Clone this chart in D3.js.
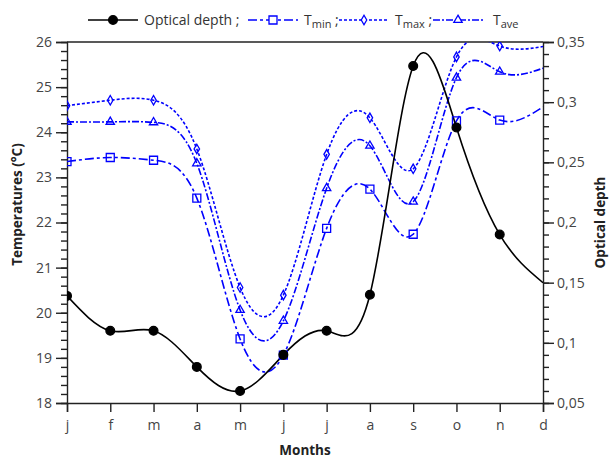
<!DOCTYPE html>
<html>
<head>
<meta charset="utf-8">
<script src="https://cdn.jsdelivr.net/npm/d3@7"></script>
<style>
  html, body { margin: 0; padding: 0; background: #fff; }
  svg { display: block; font-family: "Open Sans", "Noto Sans", sans-serif; }
</style>
</head>
<body>
<svg id="chart" width="610" height="458"></svg>
<script>
// ---- data ----
const months = ["j", "f", "m", "a", "m", "j", "j", "a", "s", "o", "n", "d"];
const opticalDepth = [0.139, 0.110, 0.110, 0.080, 0.060, 0.090, 0.110, 0.140, 0.330, 0.279, 0.190, 0.150];
const tMin = [23.35, 23.44, 23.38, 22.54, 19.42, 19.06, 21.87, 22.74, 21.74, 24.25, 24.27, 24.56];
const tMax = [24.59, 24.71, 24.71, 23.63, 20.56, 20.39, 23.51, 24.32, 23.19, 25.67, 25.91, 25.90];
const tAve = [24.23, 24.23, 24.22, 23.31, 20.06, 19.82, 22.76, 23.70, 22.46, 25.21, 25.34, 25.42];
const markerShown = [1, 1, 1, 1, 1, 1, 1, 1, 1, 1, 1, 0];
const leftTicks = [18, 19, 20, 21, 22, 23, 24, 25, 26];
const rightTicks = [0.05, 0.1, 0.15, 0.2, 0.25, 0.3, 0.35];

// ---- layout ----
const X0 = 67, X1 = 543, Y0 = 42, Y1 = 403;
const svg = d3.select("#chart");
const x = d3.scaleLinear().domain([0, months.length - 1]).range([X0, X1]);
const yT = d3.scaleLinear().domain([18, 26]).range([Y1, Y0]);
const yO = d3.scaleLinear().domain([0.05, 0.35]).range([Y1, Y0]);
const axisColor = "#222";
const textColor = "#444";
const blue = "#0000ff";

svg.append("defs").append("clipPath").attr("id", "plotclip")
  .append("rect").attr("x", X0).attr("y", Y0).attr("width", X1 - X0).attr("height", Y1 - Y0);

// ---- axes ----
const fmtComma = v => String(+v.toFixed(2)).replace(".", ",");

const leftAxis = d3.axisLeft(yT).tickValues(leftTicks).tickSize(11).tickPadding(4).tickFormat(d3.format("d"));
const leftMinor = d3.axisLeft(yT).tickValues(d3.range(18, 26.001, 0.2)).tickSize(6).tickFormat("");
const rightAxis = d3.axisRight(yO).tickValues(rightTicks).tickSize(11).tickPadding(3).tickFormat(fmtComma);
const rightMinor = d3.axisRight(yO).tickValues(d3.range(0.05, 0.3501, 0.01)).tickSize(6).tickFormat("");
const bottomAxis = d3.axisBottom(x).tickValues(d3.range(months.length)).tickSize(9).tickPadding(8).tickFormat(i => months[i]);

function styleAxis(g) {
  g.selectAll("path").attr("stroke", axisColor).attr("stroke-width", 1.4);
  g.selectAll("line").attr("stroke", axisColor).attr("stroke-width", 1.4);
  g.selectAll("text").attr("fill", textColor).style("font-size", "14px")
    .style("font-family", "'Open Sans', 'Noto Sans', sans-serif");
}

svg.append("g").attr("transform", `translate(${X0},0)`).call(leftMinor).call(styleAxis).select(".domain").remove();
svg.append("g").attr("transform", `translate(${X0},0)`).call(leftAxis).call(styleAxis);
svg.append("g").attr("transform", `translate(${X1},0)`).call(rightMinor).call(styleAxis).select(".domain").remove();
svg.append("g").attr("transform", `translate(${X1},0)`).call(rightAxis).call(styleAxis);
svg.append("g").attr("transform", `translate(0,${Y1})`).call(bottomAxis).call(styleAxis);
// top frame line
svg.append("line").attr("x1", X0).attr("x2", X1).attr("y1", Y0).attr("y2", Y0)
  .attr("stroke", axisColor).attr("stroke-width", 1.4);

// axis titles
svg.append("text").attr("transform", `translate(22,${(Y0 + Y1) / 2 - 18}) rotate(-90)`)
  .attr("text-anchor", "middle").style("font-size", "13.5px").style("font-weight", "bold")
  .attr("fill", "#222").text("Temperatures (°C)");
svg.append("text").attr("transform", `translate(605,${(Y0 + Y1) / 2}) rotate(-90)`)
  .attr("text-anchor", "middle").style("font-size", "13.5px").style("font-weight", "bold")
  .attr("fill", "#222").text("Optical depth");
svg.append("text").attr("x", (X0 + X1) / 2).attr("y", 455)
  .attr("text-anchor", "middle").style("font-size", "13.5px").style("font-weight", "bold")
  .attr("fill", "#222").text("Months");

// ---- series ----
const plot = svg.append("g").attr("clip-path", "url(#plotclip)");

const series = [
  { name: "Tmax", values: tMax, scale: yT, color: blue, dash: "3,2", marker: "diamond", size: 26, width: 1.6 },
  { name: "Tave", values: tAve, scale: yT, color: blue, dash: "7,2,2,2", marker: "triangle", size: 30, width: 1.6 },
  { name: "Tmin", values: tMin, scale: yT, color: blue, dash: "9,3,3,3", marker: "square", size: 64, width: 1.6 },
  { name: "Optical depth", values: opticalDepth, scale: yO, color: "#000", dash: null, marker: "circle", size: 60, width: 1.6 }
];
const symbolType = { diamond: d3.symbolDiamond, triangle: d3.symbolTriangle, square: d3.symbolSquare, circle: d3.symbolCircle };

series.forEach(s => {
  const line = d3.line().x((d, i) => x(i)).y(d => s.scale(d)).curve(d3.curveNatural);
  plot.append("path").datum(s.values).attr("d", line)
    .attr("fill", "none").attr("stroke", s.color).attr("stroke-width", s.width)
    .attr("stroke-dasharray", s.dash);
});
series.forEach(s => {
  const sym = d3.symbol().type(symbolType[s.marker]).size(s.size);
  plot.selectAll(null).data(s.values.map((v, i) => ({ v, i })).filter(d => markerShown[d.i]))
    .enter().append("path")
    .attr("d", sym)
    .attr("transform", d => `translate(${x(d.i)},${s.scale(d.v)})`)
    .attr("fill", s.marker === "circle" ? "#000" : "none")
    .attr("stroke", s.color).attr("stroke-width", 1.3);
});

// ---- legend ----
const legendItems = [
  { key: "Optical depth", label: "Optical depth", sub: null, sep: " ;", x: 88 },
  { key: "Tmin", label: "T", sub: "min", sep: " ;", x: 248 },
  { key: "Tmax", label: "T", sub: "max", sep: " ;", x: 339 },
  { key: "Tave", label: "T", sub: "ave", sep: "", x: 433 }
];
const LY = 20;
legendItems.forEach(item => {
  const s = series.find(d => d.name === item.key);
  const g = svg.append("g");
  g.append("line").attr("x1", item.x).attr("x2", item.x + 50).attr("y1", LY).attr("y2", LY)
    .attr("stroke", s.color).attr("stroke-width", s.width).attr("stroke-dasharray", s.dash);
  g.append("path").attr("d", d3.symbol().type(symbolType[s.marker]).size(s.size)())
    .attr("transform", `translate(${item.x + 25},${LY})`)
    .attr("fill", s.marker === "circle" ? "#000" : "#fff").attr("stroke", s.color).attr("stroke-width", 1.3);
  const t = g.append("text").attr("x", item.x + (item.key === "Tave" ? 60 : 56)).attr("y", LY + 5)
    .style("font-size", "14px").attr("fill", "#333");
  t.append("tspan").text(item.label);
  if (item.sub) t.append("tspan").attr("dy", 3).style("font-size", "11px").text(item.sub);
  if (item.sep) t.append("tspan").attr("dy", item.sub ? -3 : 0).text(item.sep);
});
</script>
</body>
</html>
